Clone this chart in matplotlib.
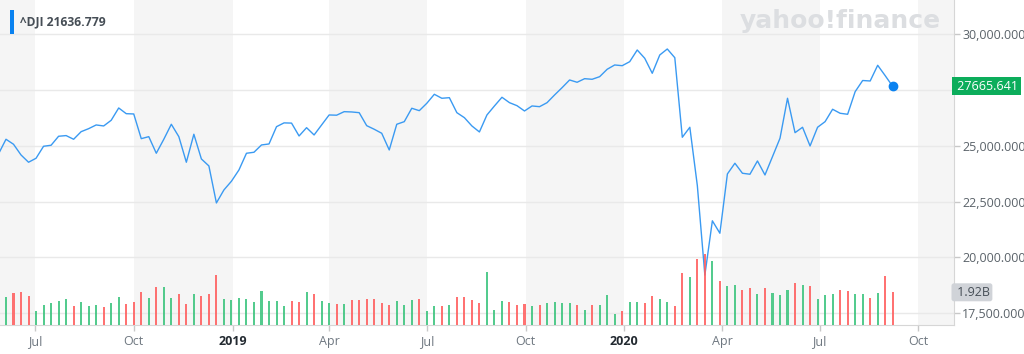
import matplotlib
matplotlib.use("Agg")
import matplotlib.pyplot as plt
import matplotlib.transforms as mtransforms
from matplotlib.patches import Rectangle
import pandas as pd

# weekly ^DJI closes, week starting May 28 2018 .. Sep 7 2020
weeks = pd.date_range("2018-05-28", periods=120, freq="7D")

close = [24635, 25295, 25071, 24591, 24264, 24443, 24981, 25026, 25430, 25460,
         25295, 25636, 25771, 25937, 25892, 26147, 26699, 26443, 26430, 25322,
         25412, 24667, 25295, 25968, 25412, 24264, 25520, 24412, 24098, 22438,
         23021, 23412, 23918, 24667, 24712, 25040, 25084, 25860, 26030, 26020,
         25443, 25815, 25488, 25937, 26385, 26375, 26533, 26520, 26488, 25905,
         25744, 25564, 24815, 25968, 26085, 26686, 26578, 26910, 27313, 27134,
         27161, 26488, 26264, 25892, 25623, 26385, 26789, 27179, 26937, 26802,
         26564, 26789, 26757, 26937, 27282, 27610, 27955, 27852, 28013, 27986,
         28103, 28435, 28628, 28596, 28776, 29300, 28928, 28255, 29076, 29345,
         28955, 25385, 25833, 23214, 19200, 21636.779, 21079, 23739, 24219, 23770,
         23726, 24322, 23694, 24515, 25340, 27134, 25591, 25833, 24995, 25833,
         26085, 26641, 26461, 26416, 27430, 27931, 27910, 28614, 28148, 27665.641]

# weekly volume, billions
volume = [1.50, 1.65, 1.88, 1.92, 1.70, 0.82, 1.18, 1.29, 1.41, 1.51,
          1.12, 1.35, 1.12, 1.18, 1.06, 1.29, 1.65, 1.23, 1.35, 1.92,
          1.59, 2.21, 2.23, 1.59, 1.82, 1.23, 1.82, 1.70, 1.82, 2.92,
          1.53, 1.47, 1.59, 1.53, 1.35, 2.00, 1.41, 1.41, 1.12, 1.41,
          1.35, 1.94, 1.82, 1.41, 1.29, 1.23, 1.23, 1.47, 1.47, 1.53,
          1.53, 1.29, 1.18, 1.41, 1.18, 1.47, 1.53, 0.82, 1.12, 1.12,
          1.18, 1.65, 1.65, 1.47, 1.29, 3.14, 0.88, 1.41, 1.35, 1.18,
          1.23, 1.12, 1.18, 1.29, 1.35, 1.29, 1.29, 1.18, 0.88, 1.18,
          1.18, 1.76, 0.65, 0.82, 1.35, 1.35, 1.29, 1.70, 1.53, 1.35,
          1.12, 3.08, 2.84, 3.88, 4.17, 3.76, 2.61, 2.29, 2.33, 2.06,
          2.16, 1.82, 2.16, 1.88, 1.76, 2.06, 2.45, 2.33, 2.29, 1.53,
          1.76, 1.82, 2.06, 2.00, 1.82, 1.82, 1.59, 1.88, 2.88, 1.92]

tick_dates = ["2018-07-01", "2018-10-01", "2019-01-01", "2019-04-01", "2019-07-01",
              "2019-10-01", "2020-01-01", "2020-04-01", "2020-07-01", "2020-10-01"]
tick_labels = ["Jul", "Oct", "2019", "Apr", "Jul", "Oct", "2020", "Apr", "Jul", "Oct"]
price_ticks = [17500, 20000, 22500, 25000, 27500, 30000]

W, H = 1024, 354
fig = plt.figure(figsize=(W / 100, H / 100), dpi=100)
ax = fig.add_axes([0, 29 / H, 954 / W, 325 / H])

x0 = pd.Timestamp("2018-05-29 10:00")
x1 = pd.Timestamp("2020-11-03 02:00")
ax.set_xlim(x0, x1)
ax.set_ylim(16962, 31543)

# alternating quarter bands
band_edges = [x0] + [pd.Timestamp(d) for d in tick_dates] + [x1]
for i in range(0, len(band_edges) - 1, 2):
    ax.axvspan(band_edges[i], band_edges[i + 1], color="#f5f5f5", lw=0, zorder=0)

for v in price_ticks:
    ax.axhline(v, color="#e9e9e9", lw=1, zorder=1)

ax.plot(weeks, close, color="#3a9af2", lw=1.0, zorder=3)
ax.plot(weeks[-1], close[-1], "o", ms=6, color="#0a82f0", zorder=4)

# volume overlay
ax2 = ax.twinx()
ax2.set_ylim(0, 19.08)
ax2.patch.set_visible(False)
ax2.set_yticks([])
for s in ax2.spines.values():
    s.set_visible(False)
colors = ["#ff5f5f"]
for i in range(1, len(close)):
    colors.append("#3cc47e" if close[i] >= close[i - 1] else "#ff5f5f")
ax2.bar(weeks, volume, width=1.9, color=colors, alpha=0.88, zorder=2)

ax.yaxis.tick_right()
ax.set_yticks(price_ticks)
# the 27,500 label sits under the last-price tag, so it is left empty
ax.set_yticklabels(["" if v == 27500 else "{:,.3f}".format(v) for v in price_ticks])
ax.tick_params(axis="y", length=4, width=1, color="#c8c8c8", pad=2,
               labelsize=9, labelcolor="#5b636a")
for t in ax.get_yticklabels():
    t.set_family("Open Sans")

ax.set_xticks([pd.Timestamp(d) for d in tick_dates])
ax.set_xticklabels(tick_labels)
ax.tick_params(axis="x", length=4, width=1, color="#c8c8c8", pad=3,
               labelsize=9, labelcolor="#6e7780")
for t, lab in zip(ax.get_xticklabels(), tick_labels):
    t.set_family("Open Sans")
    if lab.isdigit():
        t.set_fontweight("bold")
        t.set_color("#232a31")

for s in ["left", "top"]:
    ax.spines[s].set_visible(False)
for s in ["bottom", "right"]:
    ax.spines[s].set_color("#d6d6d6")
ax.set_facecolor("white")

# right-hand value tags
blend = mtransforms.blended_transform_factory(ax.transAxes, ax.transData)
ax2.text(1.0, close[-1], " %.3f" % close[-1], transform=blend, ha="left", va="center",
         fontsize=9, family="Open Sans", color="white", zorder=6, clip_on=False,
         bbox=dict(boxstyle="square,pad=0.2", fc="#0cad5b", ec="none"))
blend2 = mtransforms.blended_transform_factory(ax2.transAxes, ax2.transData)
ax2.text(1.0, volume[-1], " %.2fB" % volume[-1], transform=blend2, ha="left", va="center",
         fontsize=9, family="Open Sans", color="#464e56", zorder=6, clip_on=False,
         bbox=dict(boxstyle="round,pad=0.2", fc="#d0d3d8", ec="none"))

# hover label, top left
fig.patches.append(Rectangle((10 / W, 1 - 34 / H), 4 / W, 24 / H, transform=fig.transFigure,
                             fc="#0a82f0", ec="none"))
fig.text(20 / W, 1 - 22 / H, "^DJI 21636.779", ha="left", va="center", fontsize=8.7,
         fontweight="bold", family="Open Sans", color="#464e56")

# watermark
fig.text(941 / W, 1 - 21 / H, "yahoo!finance", ha="right", va="center", fontsize=18,
         fontweight="heavy", color="#dcdee1", zorder=0)

fig.savefig("out.png", dpi=100)
